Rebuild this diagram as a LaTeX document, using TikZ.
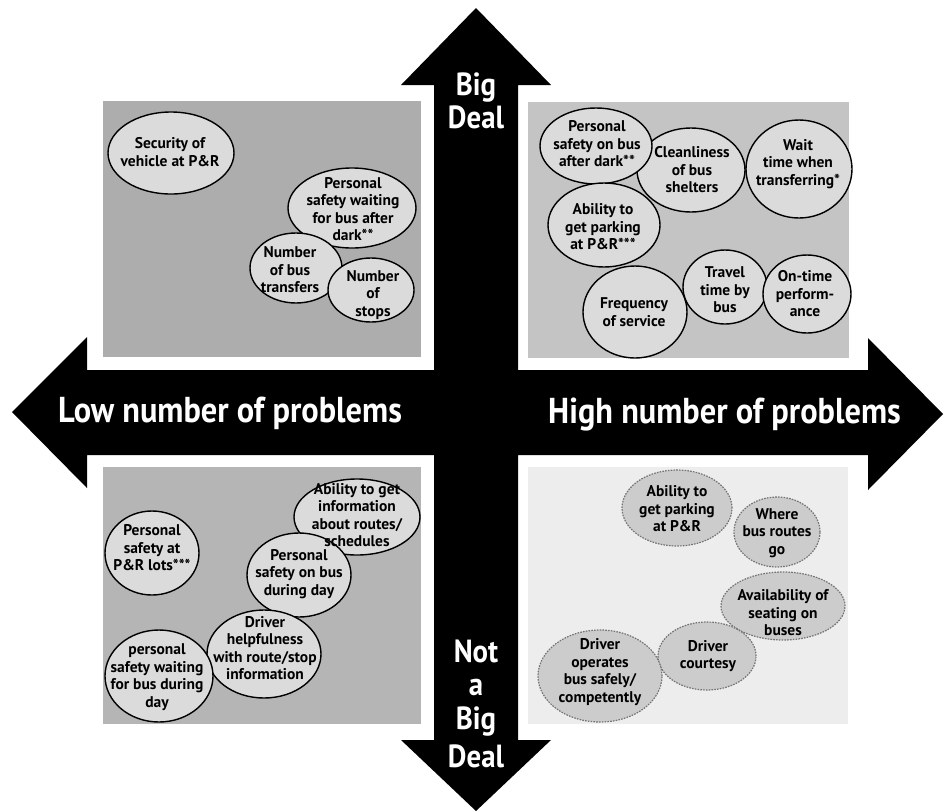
\documentclass[tikz,border=0pt]{standalone}
\usepackage{fontspec}
\setmainfont{PT Sans}
\newfontfamily\labfont[FakeStretch=0.9]{PT Sans}
\usetikzlibrary{shapes.geometric}
\definecolor{tlgray}{gray}{0.68}
\definecolor{trgray}{gray}{0.77}
\definecolor{blgray}{gray}{0.71}
\definecolor{brgray}{gray}{0.93}
\definecolor{bubfill}{gray}{0.86}
\definecolor{bublfill}{gray}{0.80}
\begin{document}
\begin{tikzpicture}[x=1pt,y=-1pt,
  bub/.style={ellipse, draw=black, line width=1.4pt, fill=bubfill, inner sep=0pt, outer sep=0pt},
  bubl/.style={ellipse, draw=black!55, line width=1.2pt, dash pattern=on 1.6pt off 1.2pt, fill=bublfill, inner sep=0pt, outer sep=0pt},
  txt/.style={align=center, font=\bfseries\fontsize{15.5}{17.5}\selectfont, inner sep=0pt},
  lab/.style={text=white, font=\labfont\bfseries\fontsize{36}{36}\selectfont, inner sep=0pt},
  vlab/.style={text=white, font=\labfont\bfseries\fontsize{32}{32}\selectfont, inner sep=0pt}
]
\useasboundingbox (0,0) rectangle (946,812);
\fill[white] (0,0) rectangle (946,812);
% cross of arrows
\fill[black] (476,8) -- (551,85) -- (518,85) -- (518,370) -- (868,370) -- (868,338)
  -- (943,414) -- (868,490) -- (868,455) -- (518,455) -- (518,740) -- (551,740)
  -- (476,811) -- (401,740) -- (434,740) -- (434,455) -- (87,455) -- (87,488)
  -- (12,412) -- (87,337) -- (87,370) -- (434,370) -- (434,85) -- (401,85) -- cycle;
% quadrant panels
\fill[tlgray] (103,101) rectangle (421,357);
\fill[trgray] (528,102) rectangle (849,358);
\fill[blgray] (103,467) rectangle (421,724);
\fill[brgray] (528,467) rectangle (848,724);
% arrow labels
\node[vlab, anchor=base] (bigA) at (476,95) {Big};
\node[vlab, anchor=base] (dealA) at (476,128) {Deal};
\node[vlab, anchor=base] (notB) at (476,662) {Not};
\node[vlab, anchor=base] (aB) at (476,695) {a};
\node[vlab, anchor=base] (bigB) at (476,729) {Big};
\node[vlab, anchor=base] (dealB) at (476,767) {Deal};
\node[lab, anchor=base west] (low) at (58,422) {Low number of problems};
\node[lab, anchor=base east] (high) at (901,423) {High number of problems};
% top-left ellipses
\node[bub, minimum width=126, minimum height=82] (tl1) at (171,153) {};
\node[bub, minimum width=128, minimum height=80] (tl2) at (352,208) {};
\node[bub, minimum width=92, minimum height=70] (tl3) at (296,268) {};
\node[bub, minimum width=86, minimum height=64] (tl4) at (371,290) {};
\node[txt] (tl1t) at (170,152) {Security of\\vehicle at P\&R};
\node[txt] (tl2t) at (353,209) {Personal\\safety waiting\\for bus after\\dark**};
\node[txt] (tl3t) at (290,270) {Number\\of bus\\transfers};
\node[txt] (tl4t) at (373,295) {Number\\of\\stops};
% top-right ellipses
\node[bub, minimum width=108, minimum height=84] (tr2) at (691,170) {};
\node[bub, minimum width=112, minimum height=76] (tr1) at (596,146) {};
\node[bub, minimum width=106, minimum height=98] (tr3) at (799,169) {};
\node[bub, minimum width=112, minimum height=84] (tr4) at (604,225) {};
\node[bub, minimum width=104, minimum height=92] (tr5) at (635,312) {};
\node[bub, minimum width=84, minimum height=74] (tr6) at (725,287) {};
\node[bub, minimum width=88, minimum height=78] (tr7) at (807,294) {};
\node[txt] (tr1t) at (597,144) {Personal\\safety on bus\\after dark**};
\node[txt] (tr2t) at (692,170) {Cleanliness\\of bus\\shelters};
\node[txt] (tr3t) at (798,164) {Wait\\time when\\transferring*};
\node[txt] (tr4t) at (603,227) {Ability to\\get parking\\at P\&R***};
\node[txt] (tr5t) at (634,312) {Frequency\\of service};
\node[txt] (tr6t) at (725,290) {Travel\\time by\\bus};
\node[txt] (tr7t) at (805,294) {On-time\\perform-\\ance};
% bottom-left ellipses
\node[bub, minimum width=94, minimum height=84] (bl1) at (152,553) {};
\node[bub, minimum width=126, minimum height=76] (bl2) at (357,517) {};
\node[bub, minimum width=104, minimum height=84] (bl3) at (299,575) {};
\node[bub, minimum width=114, minimum height=88] (bl4) at (264,654) {};
\node[bub, minimum width=108, minimum height=92] (bl5) at (159,676) {};
\node[txt] (bl1t) at (152,548) {Personal\\safety at\\P\&R lots***};
\node[txt] (bl2t) at (357,515) {Ability to get\\information\\about routes/\\schedules};
\node[txt] (bl3t) at (299,574) {Personal\\safety on bus\\during day};
\node[txt] (bl4t) at (265,648) {Driver\\helpfulness\\with route/stop\\information};
\node[txt] (bl5t) at (157,677) {personal\\safety waiting\\for bus during\\day};
% bottom-right ellipses
\node[bubl, minimum width=110, minimum height=76] (br1) at (677,508) {};
\node[bubl, minimum width=86, minimum height=70] (br2) at (777,532) {};
\node[bubl, minimum width=124, minimum height=68] (br3) at (783,606) {};
\node[bubl, minimum width=98, minimum height=68] (br4) at (707,656) {};
\node[bubl, minimum width=124, minimum height=92] (br5) at (600,676) {};
\node[txt] (br1t) at (677,509) {Ability to\\get parking\\at P\&R};
\node[txt] (br2t) at (777,533) {Where\\bus routes\\go};
\node[txt] (br3t) at (783,613) {Availability of\\seating on\\buses};
\node[txt] (br4t) at (708,656) {Driver\\courtesy};
\node[txt] (br5t) at (600,672) {Driver\\operates\\bus safely/\\competently};
\end{tikzpicture}
\end{document}
